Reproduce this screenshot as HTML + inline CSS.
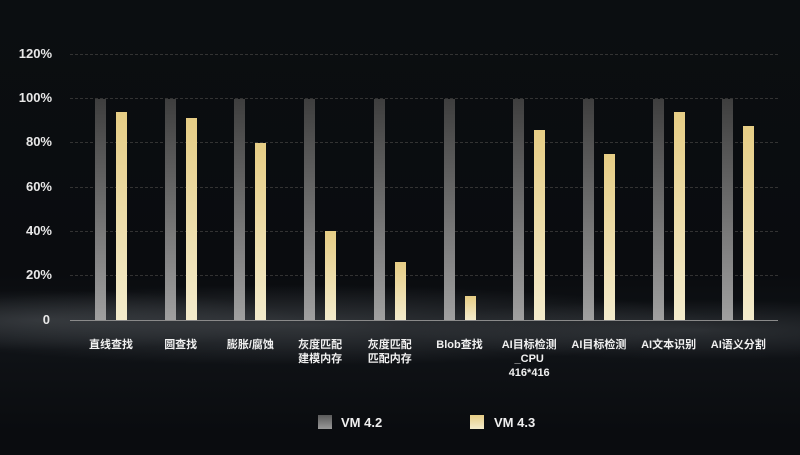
<!DOCTYPE html>
<html><head><meta charset="utf-8"><style>
body{margin:0;width:800px;height:455px;overflow:hidden;background:#0a0c0f;font-family:"Liberation Sans","Noto Sans CJK SC",sans-serif;}
.bg{position:absolute;left:0;top:0;width:800px;height:455px;
background:radial-gradient(ellipse 420px 40px at 300px 325px,rgba(120,125,130,0.35),rgba(0,0,0,0) 100%),radial-gradient(ellipse 300px 30px at 700px 330px,rgba(110,115,120,0.3),rgba(0,0,0,0) 100%),radial-gradient(ellipse 260px 30px at 40px 320px,rgba(110,115,120,0.3),rgba(0,0,0,0) 100%),linear-gradient(#0b0e11,#0a0c0f 60%,#101317 75%,#0a0c0f 95%);}
.yl{position:absolute;left:0;width:52px;text-align:right;color:#e8e8e8;font-weight:bold;font-size:13px;line-height:14px;}
.grid{position:absolute;left:70px;width:708px;border-top:1px dashed #333;}
.axis{position:absolute;left:70px;width:708px;top:320px;border-top:1px solid #8a8a8a;}
.g{position:absolute;width:11px;background:linear-gradient(#3e3e3e,#a0a0a0);}
.y{position:absolute;width:11px;background:linear-gradient(#e6cd85,#f3ebcc);}
.xl{position:absolute;top:338px;width:80px;text-align:center;color:#f0f0f0;font-weight:bold;font-size:11px;line-height:14px;}
.lg{position:absolute;color:#f0f0f0;font-weight:bold;font-size:13px;top:415px;}
</style></head><body><div class="bg"></div>
<div class="yl" style="top:47px">120%</div>
<div class="yl" style="top:91px">100%</div>
<div class="yl" style="top:135px">80%</div>
<div class="yl" style="top:180px">60%</div>
<div class="yl" style="top:224px">40%</div>
<div class="yl" style="top:268px">20%</div>
<div class="yl" style="top:313px;width:50px">0</div>
<div class="grid" style="top:54px"></div><div class="grid" style="top:98px"></div><div class="grid" style="top:142px"></div><div class="grid" style="top:187px"></div><div class="grid" style="top:231px"></div><div class="grid" style="top:275px"></div>
<div class="axis"></div>
<div id="bars"></div>
<script>
var v=[94,91,80,40,26,11,86,75,94,87.5];
var L=["直线查找","圆查找","膨胀/腐蚀","灰度匹配<br>建模内存","灰度匹配<br>匹配内存","Blob查找","AI目标检测<br>_CPU<br>416*416","AI目标检测","AI文本识别","AI语义分割"];
var h="";
for(var i=0;i<10;i++){var x=95+i*69.7;var ph=221.5/100;
h+='<div class="g" style="left:'+x+'px;top:'+(320-100*ph)+'px;height:'+(100*ph)+'px"></div>';
h+='<div class="y" style="left:'+(x+21)+'px;top:'+(320-v[i]*ph)+'px;height:'+(v[i]*ph)+'px"></div>';
h+='<div class="xl" style="left:'+(x+16-40)+'px">'+L[i]+'</div>';}
document.getElementById("bars").innerHTML=h;
</script>
<div style="position:absolute;left:318px;top:415px;width:14px;height:14px;background:linear-gradient(#5a5a5a,#999)"></div>
<div class="lg" style="left:341px">VM 4.2</div>
<div style="position:absolute;left:470px;top:415px;width:14px;height:14px;background:linear-gradient(#e6cd85,#f3ebcc)"></div>
<div class="lg" style="left:494px">VM 4.3</div>
</body></html>
